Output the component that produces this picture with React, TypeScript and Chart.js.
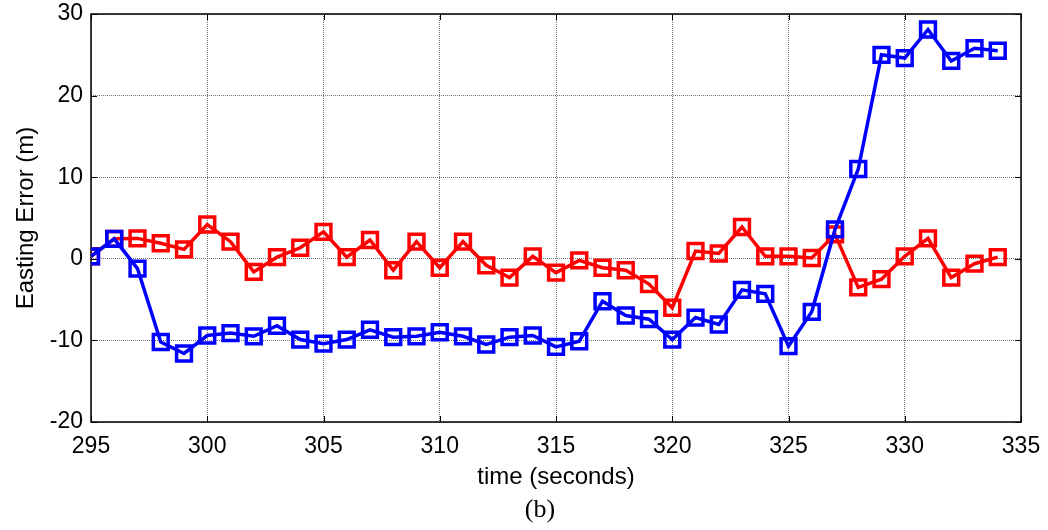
import React, { useEffect, useRef } from "react";
import { Chart, registerables } from "chart.js";

Chart.register(...registerables);

const timeSeconds = [295, 296, 297, 298, 299, 300, 301, 302, 303, 304, 305, 306, 307, 308, 309, 310, 311, 312, 313, 314, 315, 316, 317, 318, 319, 320, 321, 322, 323, 324, 325, 326, 327, 328, 329, 330, 331, 332, 333, 334];

const blueError = [0.3, 2.45, -1.2, -10.2, -11.6, -9.4, -9.1, -9.5, -8.2, -9.9, -10.4, -9.9, -8.7, -9.6, -9.5, -9.0, -9.5, -10.5, -9.6, -9.4, -10.8, -10.1, -5.2, -6.95, -7.4, -9.9, -7.2, -8.05, -3.8, -4.3, -10.7, -6.5, 3.6, 11.0, 25.0, 24.6, 28.1, 24.25, 25.8, 25.5];

const redError = [0.3, 2.45, 2.5, 1.9, 1.15, 4.2, 2.1, -1.6, 0.2, 1.35, 3.3, 0.2, 2.3, -1.4, 2.1, -1.1, 2.1, -0.8, -2.3, 0.3, -1.7, -0.2, -1.1, -1.4, -3.1, -6.0, 0.95, 0.65, 3.9, 0.3, 0.3, 0.1, 3.0, -3.5, -2.5, 0.3, 2.5, -2.3, -0.6, 0.2];

const xTicks = [295, 300, 305, 310, 315, 320, 325, 330, 335];
const yTicks = [-20, -10, 0, 10, 20, 30];

const xTitle = "time (seconds)";
const yTitle = "Easting Error (m)";
const caption = "(b)";

const SANS = '"Liberation Sans", Arial, sans-serif';
const SERIF = '"Liberation Serif", "Times New Roman", serif';

const framePlugin = {
  id: "matlabFrame",
  beforeDatasetsDraw(chart: any) {
    const { ctx, chartArea: a, scales } = chart;
    const xs = scales.x;
    const ys = scales.y;
    ctx.save();
    ctx.strokeStyle = "#000";
    ctx.lineWidth = 1;
    const tl = 6;
    ctx.beginPath();
    for (const v of xTicks) {
      const px = Math.round(xs.getPixelForValue(v)) + 0.5;
      ctx.moveTo(px, a.bottom);
      ctx.lineTo(px, a.bottom - tl);
      ctx.moveTo(px, a.top);
      ctx.lineTo(px, a.top + tl);
    }
    for (const v of yTicks) {
      const py = Math.round(ys.getPixelForValue(v)) + 0.5;
      ctx.moveTo(a.left, py);
      ctx.lineTo(a.left + tl, py);
      ctx.moveTo(a.right, py);
      ctx.lineTo(a.right - tl, py);
    }
    ctx.stroke();
    ctx.lineWidth = 1.5;
    ctx.strokeRect(a.left, a.top, a.right - a.left, a.bottom - a.top);
    ctx.restore();
  },
  afterDraw(chart: any) {
    const { ctx } = chart;
    ctx.save();
    ctx.fillStyle = "#000";
    ctx.font = "26px " + SERIF;
    ctx.textAlign = "center";
    ctx.textBaseline = "middle";
    ctx.fillText(caption, 540, 510);
    ctx.restore();
  },
};

export default function App() {
  const ref = useRef<HTMLCanvasElement | null>(null);

  useEffect(() => {
    if (!ref.current) return;
    const mk = (label: string, values: number[], color: string) => ({
      label,
      data: timeSeconds.map((t, i) => ({ x: t, y: values[i] })),
      borderColor: color,
      backgroundColor: "transparent",
      borderWidth: 3.5,
      pointStyle: "rect",
      pointRadius: 10.5,
      pointBorderWidth: 3.5,
      pointBorderColor: color,
      pointBackgroundColor: "transparent",
      tension: 0,
    });
    const chart = new Chart(ref.current, {
      type: "line",
      data: {
        datasets: [mk("blue", blueError, "#0000ff"), mk("red", redError, "#ff0000")],
      },
      options: {
        responsive: false,
        animation: false,
        events: [],
        layout: { padding: { top: 14, right: 27, left: 0, bottom: 38 } },
        plugins: {
          legend: { display: false },
          tooltip: { enabled: false },
        },
        scales: {
          x: {
            type: "linear",
            min: 295,
            max: 335,
            afterBuildTicks: (s: any) => {
              s.ticks = xTicks.map((v) => ({ value: v }));
            },
            afterFit: (s: any) => {
              s.height = 70;
              s.paddingLeft = 0;
              s.paddingRight = 0;
            },
            border: { display: false, dash: [1, 1] },
            grid: {
              color: "#707070",
              lineWidth: 1,
              drawTicks: false,
            },
            ticks: {
              color: "#000",
              padding: 11,
              maxRotation: 0,
              autoSkip: false,
              font: { family: SANS, size: 23 },
            },
            title: {
              display: true,
              text: xTitle,
              color: "#000",
              padding: { top: 0, bottom: 0 },
              font: { family: SANS, size: 24 },
            },
          },
          y: {
            type: "linear",
            min: -20,
            max: 30,
            afterBuildTicks: (s: any) => {
              s.ticks = yTicks.map((v) => ({ value: v }));
            },
            afterFit: (s: any) => {
              s.width = 91;
              s.paddingTop = 0;
              s.paddingBottom = 0;
            },
            border: { display: false, dash: [1, 1] },
            grid: {
              color: "#707070",
              lineWidth: 1,
              drawTicks: false,
            },
            ticks: {
              color: "#000",
              padding: 8,
              autoSkip: false,
              font: { family: SANS, size: 23 },
            },
            title: {
              display: true,
              text: yTitle,
              color: "#000",
              padding: { top: 12, bottom: 0 },
              font: { family: SANS, size: 24 },
            },
          },
        },
      },
      plugins: [framePlugin],
    } as any);
    return () => chart.destroy();
  }, []);

  return (
    <div style={{ position: "fixed", left: 0, top: 0, width: 1048, height: 530, background: "#fff" }}>
      <canvas ref={ref} width={1048} height={530} style={{ display: "block" }} />
    </div>
  );
}
